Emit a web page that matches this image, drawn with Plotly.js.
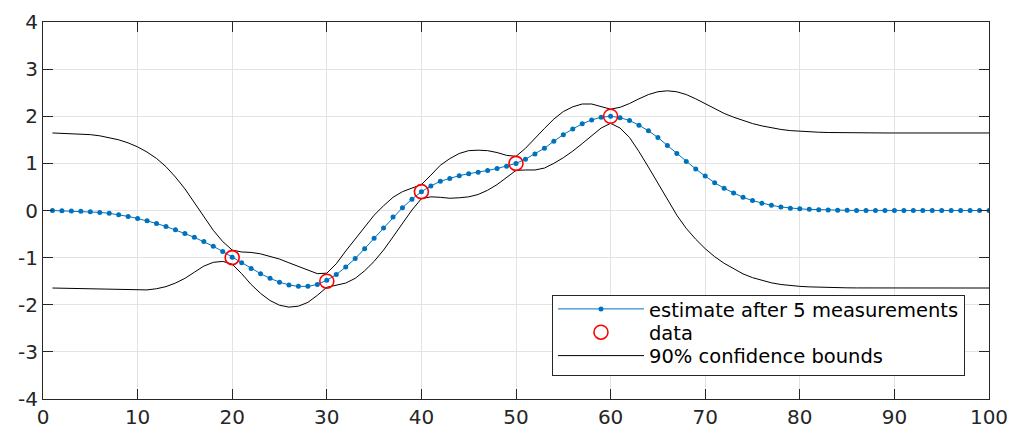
<!DOCTYPE html>
<html>
<head>
<meta charset="utf-8">
<script src="https://cdn.plot.ly/plotly-3.0.1.min.js"></script>
<style>
  html, body { margin: 0; padding: 0; background: #fff; }
  #chart { width: 1013px; height: 431px; }
</style>
</head>
<body>
<div id="chart"></div>
<script>
// sample index (1..100)
const xs = Array.from({length: 100}, (_, i) => i + 1);

// posterior mean estimate
const estimate = [
  0, -0.005, -0.01, -0.015, -0.025, -0.04, -0.06, -0.09, -0.125, -0.17,
  -0.22, -0.275, -0.34, -0.41, -0.49, -0.57, -0.66, -0.76, -0.87, -0.99,
  -1.11, -1.23, -1.34, -1.44, -1.52, -1.58, -1.61, -1.61, -1.57, -1.48,
  -1.36, -1.20, -1.02, -0.81, -0.59, -0.37, -0.14, 0.06, 0.24, 0.40,
  0.52, 0.62, 0.68, 0.74, 0.78, 0.81, 0.85, 0.89, 0.94, 1.00,
  1.09, 1.20, 1.32, 1.47, 1.61, 1.73, 1.84, 1.92, 1.98, 2.00,
  1.97, 1.91, 1.81, 1.69, 1.55, 1.38, 1.21, 1.04, 0.88, 0.73,
  0.59, 0.47, 0.37, 0.28, 0.21, 0.155, 0.11, 0.075, 0.05, 0.035,
  0.024, 0.016, 0.01, 0.006, 0.004, 0.002, 0.001, 0, 0, 0,
  0, 0, 0, 0, 0, 0, 0, 0, 0, 0
];

// upper 90% confidence bound
const upperBound = [
  1.645, 1.64, 1.635, 1.625, 1.61, 1.585, 1.55, 1.50, 1.435, 1.35,
  1.24, 1.105, 0.93, 0.71, 0.46, 0.17, -0.14, -0.42, -0.66, -0.84,
  -0.88, -0.89, -0.92, -0.97, -1.03, -1.11, -1.19, -1.27, -1.34, -1.33,
  -1.13, -0.86, -0.60, -0.34, -0.10, 0.10, 0.28, 0.40, 0.47, 0.55,
  0.75, 0.96, 1.10, 1.21, 1.27, 1.28, 1.27, 1.23, 1.17, 1.15,
  1.32, 1.54, 1.74, 1.94, 2.10, 2.20, 2.26, 2.26, 2.21, 2.15,
  2.19, 2.27, 2.37, 2.46, 2.52, 2.54, 2.52, 2.46, 2.37, 2.27,
  2.16, 2.06, 1.98, 1.905, 1.845, 1.795, 1.755, 1.72, 1.695, 1.68,
  1.669, 1.661, 1.655, 1.651, 1.649, 1.647, 1.646, 1.645, 1.645, 1.645,
  1.645, 1.645, 1.645, 1.645, 1.645, 1.645, 1.645, 1.645, 1.645, 1.645
];

// lower 90% confidence bound
const lowerBound = [
  -1.645, -1.65, -1.655, -1.655, -1.66, -1.665, -1.67, -1.68, -1.685, -1.69,
  -1.685, -1.66, -1.615, -1.54, -1.44, -1.31, -1.18, -1.10, -1.08, -1.14,
  -1.34, -1.57, -1.76, -1.91, -2.01, -2.05, -2.03, -1.95, -1.80, -1.63,
  -1.59, -1.54, -1.44, -1.28, -1.08, -0.84, -0.56, -0.28, 0.01, 0.25,
  0.29, 0.28, 0.26, 0.27, 0.29, 0.34, 0.43, 0.55, 0.71, 0.85,
  0.86, 0.86, 0.90, 1.00, 1.12, 1.26, 1.42, 1.58, 1.75, 1.85,
  1.75, 1.55, 1.25, 0.92, 0.58, 0.22, -0.10, -0.38, -0.61, -0.81,
  -0.98, -1.12, -1.24, -1.345, -1.425, -1.485, -1.535, -1.57, -1.595, -1.61,
  -1.621, -1.629, -1.635, -1.639, -1.641, -1.643, -1.644, -1.645, -1.645, -1.645,
  -1.645, -1.645, -1.645, -1.645, -1.645, -1.645, -1.645, -1.645, -1.645, -1.645
];

// measurements
const dataX = [20, 30, 40, 50, 60];
const dataY = [-1, -1.5, 0.4, 1, 2];

// tick values
const xTicks = [0, 10, 20, 30, 40, 50, 60, 70, 80, 90, 100];
const yTicks = [-4, -3, -2, -1, 0, 1, 2, 3, 4];

const FONT = 'DejaVu Sans, Liberation Sans, Arial, sans-serif';
const AX = '#262626';

const traces = [
  {
    x: xs, y: upperBound, type: 'scatter', mode: 'lines',
    name: '90% confidence bounds', legendgroup: 'b', legendrank: 3,
    line: {color: '#000000', width: 1}, hoverinfo: 'skip'
  },
  {
    x: xs, y: lowerBound, type: 'scatter', mode: 'lines',
    name: '90% confidence bounds', legendgroup: 'b', showlegend: false,
    line: {color: '#000000', width: 1}, hoverinfo: 'skip'
  },
  {
    x: xs, y: estimate, type: 'scatter', mode: 'lines+markers',
    name: 'estimate after 5 measurements', legendrank: 1,
    line: {color: '#0072BD', width: 1},
    marker: {color: '#0072BD', size: 5}
  },
  {
    x: dataX, y: dataY, type: 'scatter', mode: 'markers',
    name: 'data', legendrank: 2,
    marker: {symbol: 'circle-open', size: 14, color: '#FF0000', line: {color: '#FF0000', width: 1.6}}
  }
];

const axisCommon = {
  ticks: 'inside', ticklen: 10, tickwidth: 1, tickcolor: AX,
  showline: true, linecolor: AX, linewidth: 1, mirror: 'ticks',
  showgrid: true, gridcolor: '#e3e3e3', gridwidth: 1,
  zeroline: false,
  tickfont: {family: FONT, size: 20, color: AX}
};

const layout = {
  width: 1013, height: 431,
  margin: {l: 43, r: 24, t: 22, b: 32, pad: 0},
  paper_bgcolor: '#ffffff', plot_bgcolor: '#ffffff',
  showlegend: true,
  xaxis: Object.assign({}, axisCommon, {
    range: [0, 100], tickmode: 'array', tickvals: xTicks, ticktext: xTicks.map(String)
  }),
  yaxis: Object.assign({}, axisCommon, {
    range: [-4, 4], tickmode: 'array', tickvals: yTicks, ticktext: yTicks.map(String)
  }),
  legend: {
    x: 0.9746, xanchor: 'right', y: 0.065, yanchor: 'bottom',
    bgcolor: '#ffffff', bordercolor: AX, borderwidth: 1,
    font: {family: FONT, size: 19.5, color: '#000000'},
    itemwidth: 86, tracegroupgap: 0, traceorder: 'normal'
  }
};

Plotly.newPlot('chart', traces, layout, {staticPlot: true, displayModeBar: false}).then(function (gd) {
  // compact the legend rows (MATLAB-style tight spacing)
  const leg = gd.querySelector('.legend');
  if (!leg) return;
  leg.querySelectorAll('[clip-path]').forEach(function (el) { el.removeAttribute('clip-path'); });
  const rows = Array.from(leg.querySelectorAll('.traces'));
  rows.sort(function (a, b) { return a.getBoundingClientRect().top - b.getBoundingClientRect().top; });
  const rowCenters = [310, 333.3, 356.7];
  rows.forEach(function (row, i) {
    const txt = row.querySelector('text');
    if (!txt || i >= rowCenters.length) return;
    const r = txt.getBoundingClientRect();
    const cur = r.top + r.height / 2;
    const dy = rowCenters[i] - cur;
    const t = row.getAttribute('transform') || '';
    row.setAttribute('transform', t + ' translate(0,' + dy.toFixed(2) + ')');
  });
  const bg = leg.querySelector('rect.bg');
  if (bg) {
    const br = bg.getBoundingClientRect();
    const y0 = parseFloat(bg.getAttribute('y') || 0);
    bg.setAttribute('y', (y0 + (295 - br.top)).toFixed(2));
    bg.setAttribute('height', '80');
  }
});
</script>
</body>
</html>
